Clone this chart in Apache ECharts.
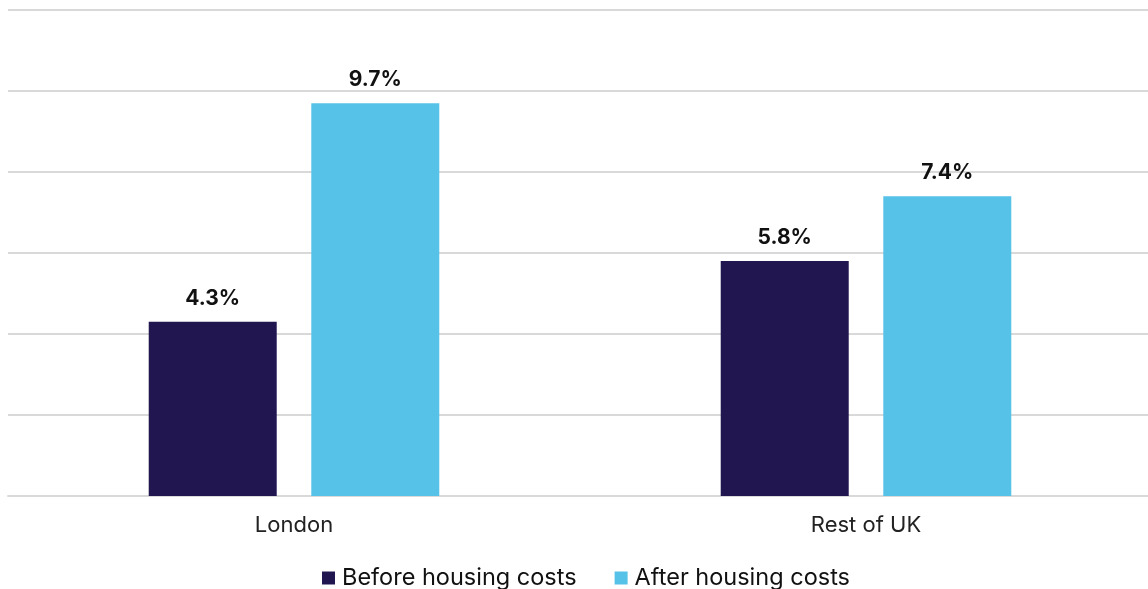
<!DOCTYPE html>
<html>
<head>
<meta charset="utf-8">
<script src="https://cdn.jsdelivr.net/npm/echarts@6/dist/echarts.min.js"></script>
<style>
  html, body { margin: 0; padding: 0; background: #fff; }
  #chart { width: 1148px; height: 589px; }
</style>
</head>
<body>
<div id="chart"></div>
<script>
  // data
  let categories = ["London", "Rest of UK"];
  let seriesNames = ["Before housing costs", "After housing costs"];
  let beforeHousing = [4.3, 5.8];
  let afterHousing = [9.7, 7.4];

  let fontFamily = "Inter, Liberation Sans, Arial, sans-serif";
  let chart = echarts.init(document.getElementById("chart"));

  let labelStyle = {
    show: true,
    position: "top",
    distance: 13,
    formatter: (p) => p.value.toFixed(1) + "%",
    color: "#111",
    fontSize: 21,
    fontWeight: "bold",
    fontFamily: fontFamily,
  };

  chart.setOption({
    animation: false,
    grid: { left: 8, width: 1144, top: 10, bottom: 93, outerBoundsMode: "none" },
    legend: {
      bottom: -6,
      left: 317,
      itemWidth: 13,
      itemHeight: 13,
      itemGap: 38,
      icon: "rect",
      textStyle: {
        fontSize: 23.5,
        color: "#111",
        fontFamily: fontFamily,
        padding: [0, 0, 0, 2],
      },
      data: seriesNames,
    },
    xAxis: {
      type: "category",
      data: categories,
      axisLine: { lineStyle: { color: "#d9d9d9", width: 2 } },
      axisTick: { show: false },
      axisLabel: {
        margin: 18,
        fontSize: 22,
        color: "#222",
        fontFamily: fontFamily,
      },
    },
    yAxis: {
      type: "value",
      min: 0,
      max: 12,
      interval: 2,
      axisLabel: { show: false },
      axisLine: { show: false },
      axisTick: { show: false },
      splitLine: { lineStyle: { color: "#d9d9d9", width: 2 } },
    },
    series: [
      {
        name: seriesNames[0],
        type: "bar",
        data: beforeHousing,
        barWidth: 128,
        barGap: "27%",
        itemStyle: { color: "#211650" },
        label: labelStyle,
      },
      {
        name: seriesNames[1],
        type: "bar",
        data: afterHousing,
        barWidth: 128,
        itemStyle: { color: "#57C2E8" },
        label: labelStyle,
      },
    ],
  });
</script>
</body>
</html>
